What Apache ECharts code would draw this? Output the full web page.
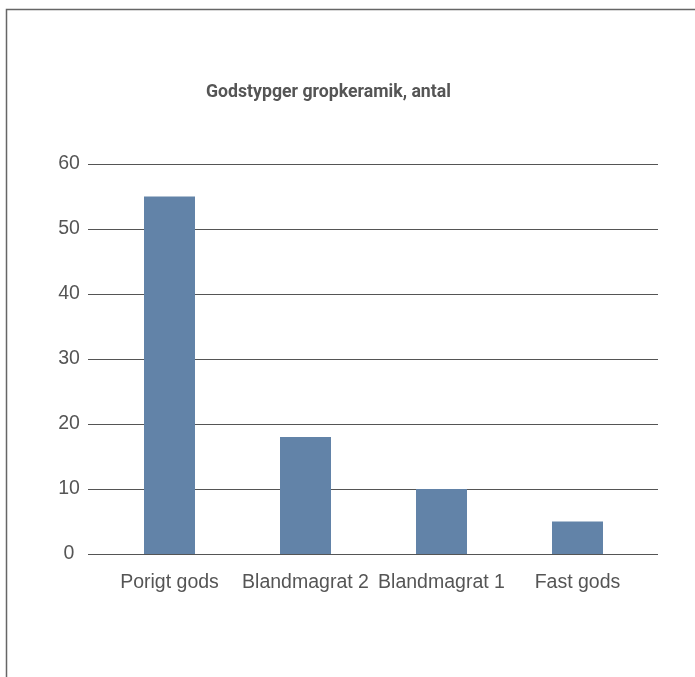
<!DOCTYPE html>
<html><head><meta charset="utf-8">
<script src="https://cdn.jsdelivr.net/npm/echarts@6/dist/echarts.min.js"></script>
<style>html,body{margin:0;padding:0;background:#fff}#c{width:695px;height:677px}</style>
</head><body><div id="c"></div>
<script>
const categories = ["Porigt gods", "Blandmagrat 2", "Blandmagrat 1", "Fast gods"];
const values = [55, 18, 10, 5];
const yTicks = [0, 10, 20, 30, 40, 50, 60];
const titleText = "Godstypger gropkeramik, antal";

const chart = echarts.init(document.getElementById('c'), null, {renderer: 'canvas'});
const font = "'Liberation Sans', Arial, sans-serif";
const yMin = yTicks[0], yMax = yTicks[yTicks.length - 1];
chart.setOption({
  animation: false,
  backgroundColor: '#fff',
  title: {
    text: titleText, left: 206, top: 84, padding: 0,
    textStyle: {fontFamily: "Roboto, 'Liberation Sans', sans-serif", fontSize: 17.7, fontWeight: 'bold', color: '#555'}
  },
  graphic: [{
    type: 'rect', left: 4, top: 7,
    shape: {x: 0, y: 0, width: 720, height: 700},
    style: {fill: 'none', stroke: '#666', lineWidth: 1.5}, silent: true
  }],
  grid: [
    {left: 88, right: 37, top: 164, bottom: 123},
    {left: 101.5, right: 49.5, top: 164, bottom: 123}
  ],
  xAxis: [
    {type: 'category', gridIndex: 0, data: categories, show: false},
    {
      type: 'category', gridIndex: 1, data: categories,
      axisLine: {show: false}, axisTick: {show: false},
      axisLabel: {fontFamily: font, fontSize: 19.5, color: '#555', margin: 19, interval: 0}
    }
  ],
  yAxis: [
    {
      type: 'value', gridIndex: 0, min: yMin, max: yMax, interval: 10,
      axisLine: {show: false}, axisTick: {show: false},
      axisLabel: {fontFamily: font, fontSize: 19.5, color: '#555', align: 'center', margin: 19},
      splitLine: {lineStyle: {color: '#555', width: 1}}
    },
    {
      type: 'value', gridIndex: 1, min: yMin, max: yMax, interval: 10, show: false,
      splitLine: {show: false}
    }
  ],
  series: [{
    type: 'bar', xAxisIndex: 1, yAxisIndex: 1, data: values, barWidth: 51,
    itemStyle: {color: '#6283a8'}
  }]
});
</script></body></html>
